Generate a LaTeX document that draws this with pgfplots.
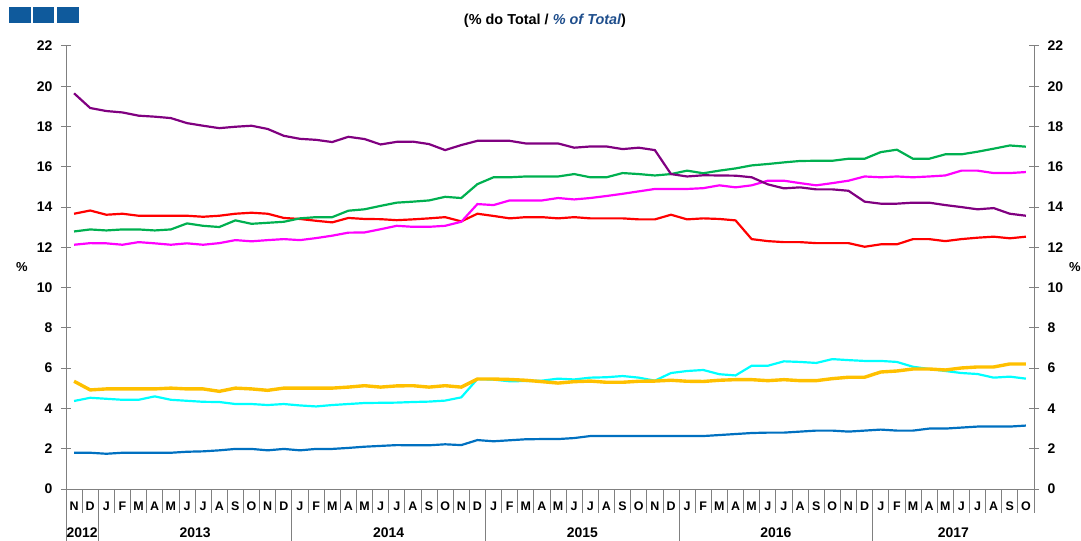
\documentclass[border=0pt]{standalone}
\usepackage{pgfplots}
\pgfplotsset{compat=1.18}
\usepackage{pgfplotstable}
\usepackage{fontspec}
\setmainfont{Liberation Sans}
\definecolor{cPu}{HTML}{800080}
\definecolor{cRe}{HTML}{FF0000}
\definecolor{cGr}{HTML}{00B050}
\definecolor{cMa}{HTML}{FF00FF}
\definecolor{cYe}{HTML}{FFC000}
\definecolor{cCy}{HTML}{00FFFF}
\definecolor{cBl}{HTML}{0070C0}
\definecolor{axgray}{HTML}{808080}
\definecolor{sqblue}{HTML}{0F5A9C}
\definecolor{titleblue}{HTML}{1F4E8C}
\pgfplotstableread{
i pu re gr ma ye cy bl
0 19.65 13.67 12.79 12.13 5.35 4.37 1.80
1 18.92 13.83 12.89 12.21 4.92 4.53 1.80
2 18.77 13.62 12.84 12.20 4.97 4.48 1.75
3 18.70 13.67 12.89 12.13 4.97 4.43 1.80
4 18.54 13.57 12.89 12.26 4.97 4.43 1.80
5 18.49 13.57 12.84 12.20 4.97 4.60 1.80
6 18.42 13.57 12.89 12.13 5.01 4.43 1.80
7 18.17 13.57 13.19 12.20 4.97 4.38 1.85
8 18.04 13.52 13.07 12.13 4.97 4.33 1.87
9 17.92 13.57 13.01 12.21 4.85 4.32 1.92
10 17.99 13.67 13.34 12.36 5.01 4.22 1.99
11 18.04 13.72 13.17 12.30 4.97 4.22 1.99
12 17.88 13.67 13.22 12.36 4.90 4.17 1.92
13 17.54 13.46 13.27 12.41 5.01 4.22 1.99
14 17.39 13.41 13.44 12.36 5.01 4.15 1.92
15 17.34 13.32 13.50 12.46 5.01 4.10 1.99
16 17.23 13.24 13.50 12.58 5.01 4.17 1.99
17 17.49 13.46 13.82 12.73 5.06 4.22 2.04
18 17.38 13.41 13.89 12.74 5.13 4.27 2.10
19 17.11 13.40 14.06 12.90 5.06 4.28 2.14
20 17.24 13.35 14.22 13.07 5.12 4.29 2.18
21 17.25 13.39 14.27 13.02 5.13 4.32 2.17
22 17.13 13.44 14.33 13.02 5.06 4.34 2.17
23 16.83 13.50 14.51 13.07 5.13 4.39 2.22
24 17.08 13.29 14.45 13.27 5.06 4.55 2.18
25 17.29 13.67 15.14 14.15 5.46 5.46 2.43
26 17.29 13.56 15.48 14.10 5.46 5.43 2.37
27 17.29 13.44 15.48 14.33 5.44 5.35 2.42
28 17.16 13.50 15.52 14.33 5.40 5.36 2.47
29 17.16 13.50 15.52 14.33 5.33 5.38 2.48
30 17.16 13.44 15.52 14.45 5.26 5.48 2.48
31 16.95 13.50 15.64 14.38 5.33 5.44 2.53
32 17.01 13.44 15.48 14.45 5.36 5.53 2.63
33 17.01 13.44 15.48 14.55 5.30 5.55 2.63
34 16.88 13.44 15.69 14.66 5.30 5.61 2.63
35 16.95 13.39 15.64 14.78 5.35 5.53 2.63
36 16.83 13.39 15.57 14.90 5.36 5.38 2.63
37 15.64 13.62 15.64 14.90 5.40 5.76 2.63
38 15.52 13.39 15.81 14.90 5.35 5.86 2.63
39 15.58 13.44 15.68 14.94 5.34 5.91 2.63
40 15.57 13.41 15.81 15.08 5.40 5.70 2.68
41 15.56 13.34 15.92 14.98 5.43 5.64 2.73
42 15.48 12.41 16.07 15.08 5.43 6.12 2.78
43 15.13 12.31 16.14 15.31 5.38 6.12 2.80
44 14.93 12.26 16.22 15.31 5.43 6.34 2.80
45 14.98 12.26 16.29 15.19 5.38 6.31 2.85
46 14.88 12.21 16.30 15.08 5.38 6.26 2.90
47 14.88 12.21 16.30 15.19 5.48 6.45 2.90
48 14.81 12.21 16.40 15.31 5.55 6.40 2.85
49 14.27 12.03 16.40 15.52 5.55 6.36 2.90
50 14.17 12.15 16.73 15.48 5.81 6.36 2.95
51 14.17 12.15 16.85 15.52 5.86 6.31 2.90
52 14.22 12.41 16.40 15.48 5.96 6.07 2.90
53 14.22 12.41 16.40 15.52 5.96 5.96 3.00
54 14.10 12.31 16.62 15.57 5.91 5.86 3.00
55 14.00 12.41 16.62 15.81 6.01 5.76 3.05
56 13.89 12.48 16.75 15.81 6.06 5.71 3.10
57 13.95 12.53 16.90 15.69 6.06 5.53 3.10
58 13.67 12.45 17.06 15.69 6.21 5.58 3.10
59 13.57 12.53 17.00 15.74 6.21 5.48 3.15
}\data
\pgfplotsset{
  common/.style={
    scale only axis, width=968bp, height=443bp,
    xmin=-0.5, xmax=59.5, ymin=0, ymax=22,
    ytick={0,2,...,22},
    axis line style={draw=axgray, line width=1pt},
    y tick style={draw=axgray, line width=1pt},
    tick align=center, major tick length=10bp,
    /pgf/number format/assume math mode=true,
    clip=false,
  }
}
\begin{document}
\begin{tikzpicture}
\begin{axis}[common,
  axis x line*=bottom, axis y line*=left,
  yticklabel style={font=\fontsize{14}{14}\selectfont\bfseries, xshift=-5bp},
  xtick={0,...,59},
  xticklabels={N,D,J,F,M,A,M,J,J,A,S,O,N,D,J,F,M,A,M,J,J,A,S,O,N,D,J,F,M,A,M,J,J,A,S,O,N,D,J,F,M,A,M,J,J,A,S,O,N,D,J,F,M,A,M,J,J,A,S,O},
  x tick style={draw=none},
  xticklabel style={font=\fontsize{12.5}{12.5}\selectfont\bfseries, anchor=center, yshift=-12bp},
]
\addplot[cBl, line width=2.2pt] table[x=i, y=bl] {\data};
\addplot[cCy, line width=2.2pt] table[x=i, y=cy] {\data};
\addplot[cYe, line width=3.4pt] table[x=i, y=ye] {\data};
\addplot[cRe, line width=2.2pt] table[x=i, y=re] {\data};
\addplot[cMa, line width=2.2pt] table[x=i, y=ma] {\data};
\addplot[cGr, line width=2.2pt] table[x=i, y=gr] {\data};
\addplot[cPu, line width=2.2pt] table[x=i, y=pu] {\data};
\pgfplotsinvokeforeach{0,...,59}{
  \draw[axgray, line width=0.8pt] ([xshift=-8.0667bp]axis cs:#1,0) -- ++(0bp,-24bp);
}
\draw[axgray, line width=0.8pt] ([xshift=8.0667bp]axis cs:59,0) -- ++(0bp,-24bp);
\foreach \k in {0,2,14,26,38,50}{
  \edef\tmp{\noexpand\draw[axgray, line width=0.8pt] ([xshift=-8.0667bp]axis cs:\k,0) -- ++(0bp,-52bp);}\tmp
}
\node[font=\fontsize{14}{14}\selectfont\bfseries] at ([yshift=-44bp]axis cs:0.5,0) {2012};
\node[font=\fontsize{14}{14}\selectfont\bfseries] at ([yshift=-44bp]axis cs:7.5,0) {2013};
\node[font=\fontsize{14}{14}\selectfont\bfseries] at ([yshift=-44bp]axis cs:19.5,0) {2014};
\node[font=\fontsize{14}{14}\selectfont\bfseries] at ([yshift=-44bp]axis cs:31.5,0) {2015};
\node[font=\fontsize{14}{14}\selectfont\bfseries] at ([yshift=-44bp]axis cs:43.5,0) {2016};
\node[font=\fontsize{14}{14}\selectfont\bfseries] at ([yshift=-44bp]axis cs:54.5,0) {2017};
\node[font=\fontsize{13}{13}\selectfont\bfseries] at ([xshift=-44bp]rel axis cs:0,0.5) {\%};
\node[font=\fontsize{13}{13}\selectfont\bfseries] at ([xshift=41bp]rel axis cs:1,0.5) {\%};
\end{axis}
\begin{axis}[common,
  axis y line*=right, axis x line=none,
  yticklabel style={font=\fontsize{14}{14}\selectfont\bfseries, xshift=5bp},
]
\end{axis}
\fill[sqblue] (-57bp,466bp) rectangle (-35bp,482bp);
\fill[sqblue] (-33bp,466bp) rectangle (-12bp,482bp);
\fill[sqblue] (-9bp,466bp) rectangle (13bp,482bp);
\node[font=\fontsize{14.5}{14.5}\selectfont\bfseries] at (479bp,468bp) {(\% do Total / \textcolor{titleblue}{\itshape\% of Total})};
\pgfresetboundingbox
\path[use as bounding box] (-66bp,-52bp) rectangle (1015bp,489bp);
\end{tikzpicture}
\end{document}
